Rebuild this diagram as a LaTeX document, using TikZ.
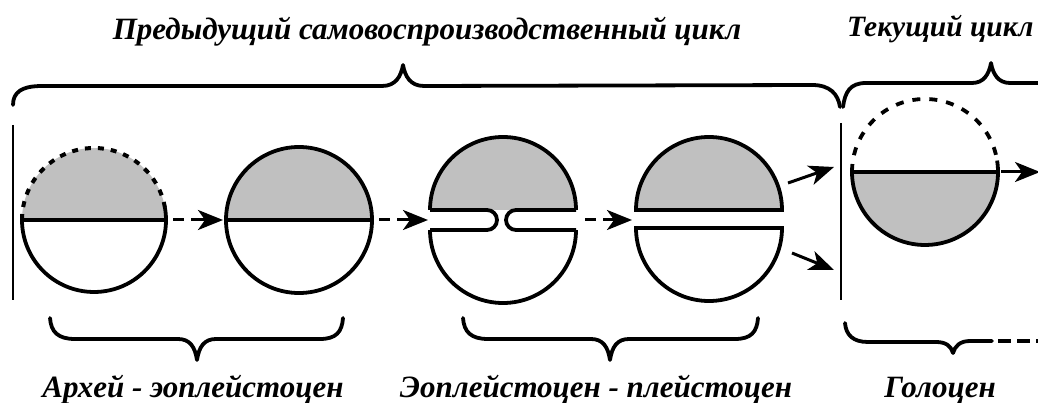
\documentclass[tikz,border=0pt]{standalone}
\usepackage{fontspec}
\setmainfont{Liberation Serif}
\usetikzlibrary{arrows.meta}
\definecolor{halfgray}{RGB}{192,192,192}
\begin{document}
\begin{tikzpicture}[x=1pt,y=1pt,
  outline/.style={line width=3.8pt},
  chord/.style={line width=4.5pt},
  dotarc/.style={line width=4pt, dash pattern=on 6pt off 7pt},
  dasharc/.style={line width=3.8pt, dash pattern=on 8pt off 9pt},
  braceline/.style={line width=3.8pt, line cap=round, line join=round},
  sepline/.style={line width=2.2pt},
  flow/.style={line width=3pt, -{Stealth[length=25pt,width=20pt,inset=7pt]}},
  flowdashed/.style={flow, dash pattern=on 11pt off 7pt on 80pt off 1pt},
  lbl/.style={font=\fontsize{31}{36}\selectfont\bfseries\itshape, inner sep=0pt, anchor=base}
]
\clip (0,0) rectangle (1038,-403);
\fill[white] (0,0) rectangle (1038,-403);

% texts
\node[lbl] (tprev) at (427,-40) {Предыдущий самовоспроизводственный цикл};
\node[lbl, anchor=base west, font=\fontsize{29.5}{34}\selectfont\bfseries\itshape] (tcur) at (847,-37) {Текущий цикл};
\node[lbl] (t1) at (193,-397) {Архей - эоплейстоцен};
\node[lbl] (t2) at (596,-397) {Эоплейстоцен - плейстоцен};
\node[lbl] (t3) at (940,-397) {Голоцен};

% top braces
\draw[braceline] (13,-105) .. controls (13,-92) and (22,-86) .. (42,-86) -- (382,-86)
  .. controls (396,-86) and (401,-76) .. (403,-65) .. controls (405,-76) and (410,-86) .. (424,-86)
  -- (812,-85) .. controls (830,-85) and (838,-94) .. (840,-107);
\draw[braceline] (843,-107) .. controls (845,-92) and (850,-83) .. (866,-83) -- (972,-83)
  .. controls (984,-83) and (989,-74) .. (991,-63) .. controls (993,-74) and (998,-83) .. (1010,-83) -- (1045,-83);

% separators
\draw[sepline] (13,-125) -- (13,-300);
\draw[sepline] (841,-123) -- (841,-300);

% circle 1
\fill[halfgray] (22,-220) arc[start angle=180,end angle=0,radius=72pt] -- cycle;
\draw[dotarc] (22,-220) arc[start angle=180,end angle=8,radius=72pt];
\draw[outline] (94,-220) ++(10:72pt) arc[start angle=10,end angle=-180,radius=72pt];
\draw[chord] (22,-220) -- (166,-220);

% circle 2
\fill[halfgray] (226,-220) arc[start angle=180,end angle=0,radius=73pt] -- cycle;
\draw[outline] (299,-220) circle[radius=73pt];
\draw[chord] (226,-220) -- (372,-220);

% circle 3
\fill[halfgray] (430,-210) arc[start angle=180,end angle=0,radius=73pt] -- cycle;
\draw[outline] (430,-210) arc[start angle=180,end angle=0,radius=73pt];
\draw[outline] (430,-230) arc[start angle=180,end angle=360,radius=73pt];
\draw[outline] (430,-210) -- (487,-210) arc[start angle=90,end angle=-90,radius=10pt] -- (430,-230);
\draw[outline] (576,-210) -- (516,-210) arc[start angle=90,end angle=270,radius=10pt] -- (576,-230);

% circle 4
\filldraw[outline, fill=halfgray] (636,-210) arc[start angle=180,end angle=0,radius=73pt] -- cycle;
\draw[outline] (636,-228) arc[start angle=180,end angle=360,radius=73pt] -- cycle;

% circle 5
\fill[halfgray] (852,-172) arc[start angle=180,end angle=360,radius=73pt] -- cycle;
\draw[dasharc] (852,-172) arc[start angle=180,end angle=12,radius=73pt];
\draw[outline] (925,-172) ++(9:73pt) arc[start angle=9,end angle=-180,radius=73pt];
\draw[chord] (852,-172) -- (998,-172);

% arrow end points
\coordinate (a1s) at (173,-220); \coordinate (a1e) at (223,-220);
\coordinate (a2s) at (379,-220); \coordinate (a2e) at (428,-220);
\coordinate (a3s) at (585,-220); \coordinate (a3e) at (632,-220);
\coordinate (a4s) at (788,-183); \coordinate (a4e) at (834,-167);
\coordinate (a5s) at (792,-253); \coordinate (a5e) at (834,-270);
\coordinate (a6s) at (1001,-172); \coordinate (a6e) at (1040,-172);
\draw[flowdashed] (a1s) -- (a1e);
\draw[flowdashed] (a2s) -- (a2e);
\draw[flowdashed] (a3s) -- (a3e);
\draw[flow] (a4s) -- (a4e);
\draw[flow] (a5s) -- (a5e);
\draw[flow] (a6s) -- (a6e);

% bottom braces
\draw[braceline] (50,-318) .. controls (51,-332) and (58,-339) .. (75,-339) -- (178,-339)
  .. controls (190,-339) and (195,-347) .. (197,-360) .. controls (199,-347) and (204,-339) .. (216,-339)
  -- (320,-339) .. controls (336,-339) and (342,-332) .. (343,-318);
\draw[braceline] (463,-318) .. controls (464,-332) and (471,-339) .. (488,-339) -- (591,-339)
  .. controls (603,-339) and (608,-347) .. (610,-360) .. controls (612,-347) and (617,-339) .. (629,-339)
  -- (735,-339) .. controls (751,-339) and (757,-332) .. (758,-318);
\draw[braceline] (845,-323) .. controls (846,-335) and (853,-342) .. (868,-342) -- (936,-342)
  .. controls (946,-342) and (951,-346) .. (953,-353) .. controls (955,-346) and (960,-341) .. (970,-341) -- (992,-341);
\draw[braceline, line cap=butt, dash pattern=on 13pt off 6pt] (998,-341) -- (1040,-341);
\end{tikzpicture}
\end{document}
